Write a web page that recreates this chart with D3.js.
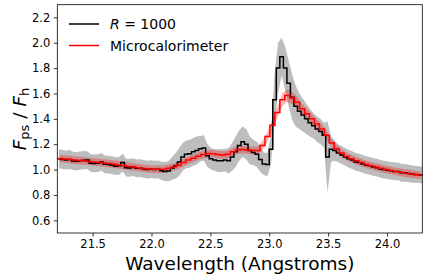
<!DOCTYPE html>
<html>
<head>
<meta charset="utf-8">
<script src="https://cdn.jsdelivr.net/npm/d3@7"></script>
<style>
  body { margin: 0; background: #fff; }
  text { font-family: "DejaVu Sans", sans-serif; }
</style>
</head>
<body>
<script>
// R = 1000 spectrum, bins of 0.03 A starting at 21.2 A
var blackStart = 21.2, blackWidth = 0.03;
var blackFlux = [
  1.085, 1.08, 1.075, 1.08, 1.068, 1.065, 1.07, 1.074, 1.075, 1.05,
  1.048, 1.05, 1.06, 1.042, 1.04, 1.035, 1.027, 1.03, 1.055, 1.015,
  1.013, 1.02, 1.01, 1.012, 1.005, 1.0, 1.003, 1.0, 1.002, 0.99,
  0.985, 0.988, 1.01, 1.03, 1.06, 1.1, 1.12, 1.125, 1.14, 1.15,
  1.165, 1.17, 1.11, 1.085, 1.075, 1.07, 1.07, 1.075, 1.07, 1.1,
  1.14, 1.19, 1.22, 1.2, 1.15, 1.135, 1.12, 1.08, 1.045, 1.04,
  1.16, 1.55, 1.8, 1.89, 1.8, 1.68, 1.57, 1.5, 1.46, 1.43,
  1.4, 1.37, 1.345, 1.32, 1.3, 1.27, 1.1, 1.16, 1.15, 1.13,
  1.115, 1.1, 1.085, 1.075, 1.06, 1.055, 1.045, 1.035, 1.03, 1.02,
  1.015, 1.005, 1.0, 0.995, 0.99, 0.985, 0.985, 0.975, 0.975, 0.97,
  0.965, 0.962, 0.96, 0.955
];
// half width of the grey band around the R = 1000 spectrum
var blackErr = [
  0.075, 0.075, 0.075, 0.075, 0.072, 0.072, 0.072, 0.072, 0.07, 0.07,
  0.07, 0.07, 0.07, 0.07, 0.07, 0.07, 0.07, 0.07, 0.07, 0.07,
  0.07, 0.07, 0.07, 0.07, 0.07, 0.07, 0.07, 0.07, 0.07, 0.072,
  0.075, 0.08, 0.09, 0.1, 0.11, 0.11, 0.11, 0.11, 0.11, 0.11,
  0.1, 0.1, 0.09, 0.085, 0.085, 0.09, 0.09, 0.09, 0.1, 0.11,
  0.12, 0.12, 0.12, 0.12, 0.11, 0.1, 0.1, 0.1, 0.09, 0.09,
  0.12, 0.2, 0.2, 0.15, 0.17, 0.18, 0.18, 0.16, 0.14, 0.13,
  0.12, 0.11, 0.1, 0.1, 0.1, 0.1, 0.28, 0.1, 0.08, 0.07,
  0.07, 0.07, 0.07, 0.07, 0.07, 0.07, 0.07, 0.07, 0.07, 0.07,
  0.07, 0.07, 0.07, 0.07, 0.07, 0.07, 0.07, 0.07, 0.07, 0.068,
  0.068, 0.066, 0.066, 0.065
];

// Microcalorimeter spectrum, bins of 0.042 A starting at 21.2 A
var redStart = 21.2, redWidth = 0.042;
var redFlux = [
  1.087, 1.083, 1.08, 1.075, 1.072, 1.068, 1.064, 1.06, 1.056, 1.052,
  1.047, 1.042, 1.037, 1.032, 1.025, 1.02, 1.014, 1.008, 1.005, 1.003,
  1.002, 1.003, 1.01, 1.02, 1.035, 1.055, 1.075, 1.09, 1.105, 1.118,
  1.127, 1.125, 1.118, 1.115, 1.12, 1.14, 1.155, 1.158, 1.155, 1.15,
  1.15, 1.19, 1.26, 1.35, 1.45, 1.55, 1.585, 1.565, 1.53, 1.48,
  1.44, 1.4, 1.36, 1.32, 1.27, 1.21, 1.165, 1.13, 1.105, 1.085,
  1.07, 1.055, 1.04, 1.03, 1.02, 1.01, 1.0, 0.993, 0.985, 0.978,
  0.972, 0.966, 0.96, 0.955
];
var redErr = [
  0.03, 0.03, 0.03, 0.03, 0.03, 0.03, 0.03, 0.03, 0.03, 0.03,
  0.03, 0.03, 0.03, 0.03, 0.03, 0.03, 0.03, 0.03, 0.03, 0.03,
  0.03, 0.03, 0.03, 0.03, 0.03, 0.03, 0.03, 0.03, 0.03, 0.03,
  0.03, 0.03, 0.03, 0.03, 0.03, 0.03, 0.03, 0.03, 0.03, 0.03,
  0.032, 0.035, 0.038, 0.04, 0.045, 0.05, 0.05, 0.05, 0.045, 0.04,
  0.04, 0.038, 0.035, 0.035, 0.035, 0.032, 0.03, 0.03, 0.03, 0.03,
  0.03, 0.03, 0.03, 0.03, 0.03, 0.03, 0.03, 0.03, 0.03, 0.03,
  0.03, 0.03, 0.03, 0.03
];

var xTicks = [21.5, 22.0, 22.5, 23.0, 23.5, 24.0];
var yTicks = [0.6, 0.8, 1.0, 1.2, 1.4, 1.6, 1.8, 2.0, 2.2];
var legendLabels = ["R = 1000", "Microcalorimeter"];

// Canvas size
var width = 428, height = 277;
var margin = {left: 57.3, right: 5.7, top: 4.7, bottom: 44};

var x = d3.scaleLinear().domain([21.2, 24.3])
    .range([margin.left, width - margin.right]);
var y = d3.scaleLinear().domain([0.5, 2.3])
    .range([height - margin.bottom, margin.top]);

var svg = d3.select("body").append("svg")
    .attr("width", width)
    .attr("height", height);

svg.append("clipPath").attr("id", "plot")
  .append("rect")
    .attr("x", margin.left).attr("y", margin.top)
    .attr("width", x.range()[1] - x.range()[0])
    .attr("height", y.range()[0] - y.range()[1]);

// turn bin values into records with wavelength
function bins(start, w, flux, err) {
  return flux.map(function(v, i) {
    return {x0: start + i * w, xc: start + (i + 0.5) * w, v: v, e: err[i]};
  });
}
var black = bins(blackStart, blackWidth, blackFlux, blackErr);
var red = bins(redStart, redWidth, redFlux, redErr);

function stepPoints(b, w) {
  var pts = b.map(function(d) { return [d.x0, d.v]; });
  var last = b[b.length - 1];
  pts.push([last.x0 + w, last.v]);
  return pts;
}

var band = d3.area()
    .x(function(d) { return x(d.xc); })
    .y0(function(d) { return y(d.v - d.e); })
    .y1(function(d) { return y(d.v + d.e); });

var step = d3.line()
    .x(function(d) { return x(d[0]); })
    .y(function(d) { return y(d[1]); })
    .curve(d3.curveStepAfter);

var g = svg.append("g").attr("clip-path", "url(#plot)");

g.append("path")
    .datum(black)
    .attr("d", band)
    .attr("fill", "#bdbdbd");

g.append("path")
    .datum(red)
    .attr("d", band)
    .attr("fill", "red")
    .attr("fill-opacity", 0.3);

g.append("path")
    .datum(stepPoints(black, blackWidth))
    .attr("d", step)
    .attr("fill", "none")
    .attr("stroke", "black")
    .attr("stroke-width", 1.5);

g.append("path")
    .datum(stepPoints(red, redWidth))
    .attr("d", step)
    .attr("fill", "none")
    .attr("stroke", "red")
    .attr("stroke-width", 1.5);

// Axes
var xAxis = svg.append("g")
    .attr("transform", "translate(0," + y.range()[0] + ")")
    .call(d3.axisBottom(x).tickValues(xTicks).tickFormat(d3.format(".1f"))
      .tickSize(3.5).tickPadding(3.5));
var yAxis = svg.append("g")
    .attr("transform", "translate(" + margin.left + ",0)")
    .call(d3.axisLeft(y).tickValues(yTicks).tickFormat(d3.format(".1f"))
      .tickSize(3.5).tickPadding(3.5));
[xAxis, yAxis].forEach(function(a) {
  a.select(".domain").remove();
  a.selectAll("text").attr("font-size", 11.5).attr("fill", "black")
      .attr("font-family", "DejaVu Sans");
  a.selectAll("line").attr("stroke", "black").attr("stroke-width", 0.8);
});

// frame
svg.append("rect")
    .attr("x", margin.left).attr("y", margin.top)
    .attr("width", x.range()[1] - x.range()[0])
    .attr("height", y.range()[0] - y.range()[1])
    .attr("fill", "none")
    .attr("stroke", "black")
    .attr("stroke-width", 0.8);

// Axis labels
svg.append("text")
    .attr("x", (x.range()[0] + x.range()[1]) / 2)
    .attr("y", 270)
    .attr("text-anchor", "middle")
    .attr("font-size", 18.5)
    .text("Wavelength (Angstroms)");

var yl = svg.append("text")
    .attr("transform", "translate(26,119) rotate(-90)")
    .attr("text-anchor", "middle")
    .attr("font-size", 18.5);
yl.append("tspan").attr("font-style", "italic").text("F");
yl.append("tspan").attr("font-size", 13).attr("dy", 3).text("ps");
yl.append("tspan").attr("dy", -3).text(" / ");
yl.append("tspan").attr("font-style", "italic").text("F");
yl.append("tspan").attr("font-size", 13).attr("dy", 3).text("h");

// Legend
var legend = svg.append("g");
var legendColors = ["black", "red"];
legendLabels.forEach(function(lab, i) {
  var ly = 24 + i * 21.5;
  legend.append("line")
      .attr("x1", 69).attr("x2", 99)
      .attr("y1", ly).attr("y2", ly)
      .attr("stroke", legendColors[i]).attr("stroke-width", 1.5);
  var t = legend.append("text")
      .attr("x", 110).attr("y", ly + 5)
      .attr("font-size", 14);
  if (i === 0) {
    t.append("tspan").attr("font-style", "italic").text("R");
    t.append("tspan").text(" = 1000");
  } else {
    t.text(lab);
  }
});
</script>
</body>
</html>
